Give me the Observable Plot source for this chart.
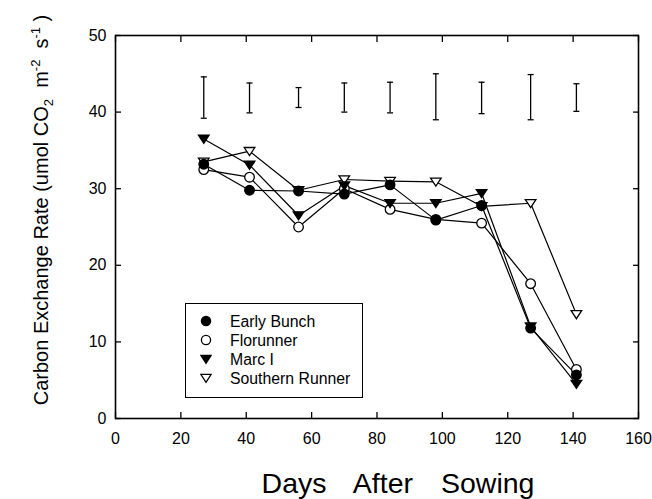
<!DOCTYPE html>
<html><head><meta charset="utf-8">
<script src="https://cdn.jsdelivr.net/npm/d3@7"></script>
<script src="https://cdn.jsdelivr.net/npm/@observablehq/plot@0.6"></script>
<style>
body{margin:0;background:#fff;}
#wrap{position:relative;width:652px;height:499px;font-family:"Liberation Sans",Arial,sans-serif;color:#000;overflow:hidden;}
#ylab{position:absolute;left:42px;top:210px;transform:translate(-50%,-50%) rotate(-90deg);white-space:pre;font-size:20px;line-height:1;}
#ylab sub,#ylab sup{font-size:13px;}
#xlab{position:absolute;left:398px;top:483px;transform:translate(-50%,-50%);font-size:28.5px;word-spacing:20px;white-space:pre;line-height:1;}
#legend{position:absolute;left:185px;top:303px;width:178px;height:95px;border:1px solid #000;box-sizing:border-box;background:#fff;}
.row{position:absolute;left:0;height:19px;width:100%;font-size:15.8px;}
.row svg{position:absolute;left:14px;top:3px;}
.row span{position:absolute;left:44px;top:1px;line-height:17px;}
</style></head>
<body><div id="wrap"></div>
<script>
// ---- data ----
const days = [27, 41, 56, 70, 84, 98, 112, 127, 141];
const seriesNames = ["Early Bunch", "Florunner", "Marc I", "Southern Runner"];
const earlyBunch     = [33.2, 29.8, 29.7, 29.3, 30.5, 25.9, 27.8, 11.8, 5.7];
const florunner      = [32.5, 31.5, 25.0, 30.0, 27.3, 26.0, 25.5, 17.6, 6.4];
const marcI          = [36.5, 33.1, 26.5, 30.4, 28.1, 28.1, 29.4, 12.0, 4.5];
const southernRunner = [33.5, 34.9, 29.8, 31.2, 31.0, 30.9, 27.7, 28.1, 13.6];
const errLow  = [39.2, 39.9, 40.6, 40.0, 39.9, 39.0, 39.8, 39.0, 40.1];
const errHigh = [44.6, 43.8, 43.2, 43.8, 43.9, 45.0, 43.9, 44.9, 43.7];
const xTicks = [0, 20, 40, 60, 80, 100, 120, 140, 160];
const yTicks = [0, 10, 20, 30, 40, 50];

const seriesValues = [earlyBunch, florunner, marcI, southernRunner];
const rows = seriesNames.flatMap((name, s) => days.map((d, i) => ({name, day: d, value: seriesValues[s][i]})));
const errRows = days.map((d, i) => ({day: d, lo: errLow[i], hi: errHigh[i]}));

const triDown = {draw(ctx, size) { const r = Math.sqrt(size / Math.PI); ctx.moveTo(-r * 1.15, -r * 0.8); ctx.lineTo(r * 1.15, -r * 0.8); ctx.lineTo(0, r * 0.95); ctx.closePath(); }};
const cap = {draw(ctx, size) { const r = Math.sqrt(size / Math.PI); ctx.moveTo(-r, 0); ctx.lineTo(r, 0); }};

const style = {
  "Early Bunch": {symbol: "circle", fill: "black", r: 4.8},
  "Florunner": {symbol: "circle", fill: "white", r: 4.8},
  "Marc I": {symbol: triDown, fill: "black", r: 4.6},
  "Southern Runner": {symbol: triDown, fill: "white", r: 4.6}
};
const drawOrder = ["Southern Runner", "Florunner", "Marc I", "Early Bunch"];

const chart = Plot.plot({
  width: 652, height: 499,
  marginLeft: 115, marginRight: 14, marginTop: 35, marginBottom: 81,
  style: {fontFamily: '"Liberation Sans", Arial, sans-serif', fontSize: "16px", background: "white", color: "black"},
  x: {domain: [0, 160]},
  y: {domain: [0, 50]},
  marks: [
    Plot.axisX({ticks: xTicks, tickSize: -6, tickPadding: 20, label: null, strokeWidth: 1.3}),
    Plot.axisX({anchor: "top", ticks: xTicks, tickSize: -6, tickFormat: () => "", label: null, strokeWidth: 1.3}),
    Plot.axisY({ticks: yTicks, tickSize: -6, tickPadding: 15, label: null, strokeWidth: 1.3}),
    Plot.axisY({anchor: "right", ticks: yTicks, tickSize: -6, tickFormat: () => "", label: null, strokeWidth: 1.3}),
    Plot.frame({stroke: "black", strokeWidth: 1.6}),
    Plot.ruleX(errRows, {x: "day", y1: "lo", y2: "hi", stroke: "black", strokeWidth: 1.3}),
    Plot.dot(errRows, {x: "day", y: "lo", symbol: cap, r: 3, stroke: "black", strokeWidth: 1.3}),
    Plot.dot(errRows, {x: "day", y: "hi", symbol: cap, r: 3, stroke: "black", strokeWidth: 1.3}),
    Plot.line(rows, {x: "day", y: "value", z: "name", stroke: "black", strokeWidth: 1.2}),
    ...drawOrder.map(n => Plot.dot(rows.filter(d => d.name === n), {
      x: "day", y: "value", symbol: style[n].symbol, r: style[n].r,
      fill: style[n].fill, stroke: "black", strokeWidth: 1.3
    }))
  ]
});

const wrap = document.getElementById("wrap");
wrap.appendChild(chart);

const ylab = document.createElement("div");
ylab.id = "ylab";
ylab.innerHTML = "Carbon Exchange Rate (umol CO<sub>2</sub>  m<sup>-2</sup>  s<sup>-1</sup> )";
wrap.appendChild(ylab);

const xlab = document.createElement("div");
xlab.id = "xlab";
xlab.textContent = "Days After Sowing";
wrap.appendChild(xlab);

const legend = document.createElement("div");
legend.id = "legend";
seriesNames.forEach((n, i) => {
  const row = document.createElement("div");
  row.className = "row";
  row.style.top = (8 + i * 19) + "px";
  const s = style[n];
  const shape = s.symbol === "circle"
    ? `<circle cx="6" cy="6" r="4.6" fill="${s.fill}" stroke="black" stroke-width="1.3"/>`
    : `<path d="M0.8,2.3 L11.2,2.3 L6,10.4 Z" fill="${s.fill}" stroke="black" stroke-width="1.3"/>`;
  row.innerHTML = `<svg width="12" height="12">${shape}</svg><span>${n}</span>`;
  legend.appendChild(row);
});
wrap.appendChild(legend);
</script>
</body></html>
